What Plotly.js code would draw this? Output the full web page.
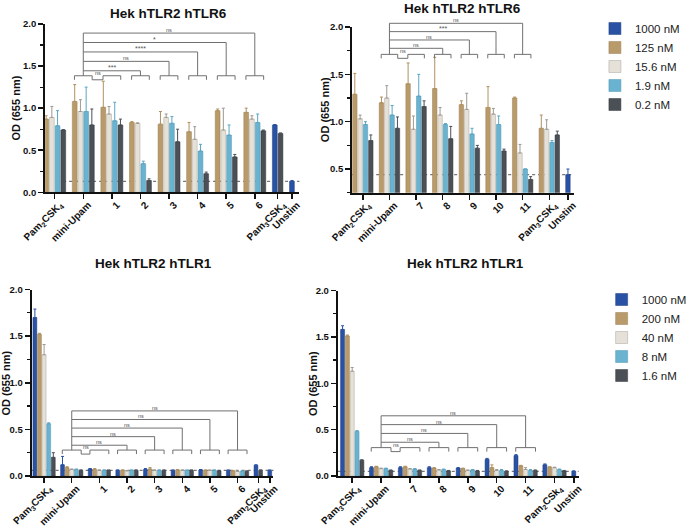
<!DOCTYPE html>
<html>
<head>
<meta charset="utf-8">
<script src="https://cdn.plot.ly/plotly-3.0.1.min.js"></script>
<style>html,body{margin:0;padding:0;background:#fff}#chart{width:692px;height:532px}</style>
</head>
<body>
<div id="chart"></div>
<script>
// ================= DATA =================
// Series (concentrations)
const topConc = ['1000 nM', '125 nM', '15.6 nM', '1.9 nM', '0.2 nM'];
const botConc = ['1000 nM', '200 nM', '40 nM', '8 nM', '1.6 nM'];

// Panel A: Hek hTLR2 hTLR6 (compounds 1-6)
const aCats = ['Pam<sub>2</sub>CSK<sub>4</sub>', 'mini-Upam', '1', '2', '3', '4', '5', '6', 'Pam<sub>3</sub>CSK<sub>4</sub>', 'Unstim'];
const a1000 = [null, null, null, null, null, null, null, null, 0.80, 0.13];
const a1000Sd = [null, null, null, null, null, null, null, null, 0.005, 0.01];
const a125 = [0.87, 1.08, 1.01, 0.83, 0.81, 0.72, 0.97, 0.95, null, null];
const a125Sd = [0.04, 0.20, 0.31, 0.01, 0.15, 0.11, 0.02, 0.05, null, null];
const a15 = [0.89, 0.96, 0.93, 0.82, 0.89, 0.63, 0.74, 0.87, null, null];
const a15Sd = [0.13, 0.14, 0.09, 0.005, 0.04, 0.15, 0.26, 0.04, null, null];
const a19 = [0.79, 0.96, 0.85, 0.34, 0.82, 0.49, 0.68, 0.83, null, null];
const a19Sd = [0.18, 0.29, 0.22, 0.03, 0.08, 0.08, 0.12, 0.10, null, null];
const a02 = [0.74, 0.80, 0.80, 0.14, 0.60, 0.22, 0.42, 0.73, 0.70, null];
const a02Sd = [0.005, 0.19, 0.07, 0.02, 0.15, 0.02, 0.03, 0.01, 0.005, null];
const aSig = ['ns', '***', 'ns', '****', '*', 'ns'];

// Panel B: Hek hTLR2 hTLR6 (compounds 7-11)
const bCats = ['Pam<sub>2</sub>CSK<sub>4</sub>', 'mini-Upam', '7', '8', '9', '10', '11', 'Pam<sub>3</sub>CSK<sub>4</sub>', 'Unstim'];
const b1000 = [null, null, null, null, null, null, null, null, 0.44];
const b1000Sd = [null, null, null, null, null, null, null, null, 0.06];
const b125 = [1.29, 1.20, 1.40, 1.35, 1.18, 1.15, 1.25, 0.93, null];
const b125Sd = [0.22, 0.06, 0.22, 0.33, 0.04, 0.22, 0.01, 0.14, null];
const b15 = [1.03, 1.25, 0.92, 1.07, 1.13, 1.08, 0.67, 0.92, null];
const b15Sd = [0.04, 0.13, 0.14, 0.08, 0.17, 0.06, 0.09, 0.10, null];
const b19 = [0.97, 1.07, 1.27, 0.97, 0.87, 0.97, 0.50, 0.78, null];
const b19Sd = [0.03, 0.10, 0.23, 0.01, 0.06, 0.09, 0.0, 0.02, null];
const b02 = [0.80, 0.93, 1.16, 0.82, 0.72, 0.69, 0.39, 0.86, null];
const b02Sd = [0.06, 0.12, 0.06, 0.13, 0.03, 0.02, 0.03, 0.04, null];
const bSig = ['ns', 'ns', 'ns', '***', 'ns'];

// Panel C: Hek hTLR2 hTLR1 (compounds 1-6)
const cCats = ['Pam<sub>3</sub>CSK<sub>4</sub>', 'mini-Upam', '1', '2', '3', '4', '5', '6', 'Pam<sub>2</sub>CSK<sub>4</sub>', 'Unstim'];
const c1000 = [1.70, 0.12, 0.075, 0.06, 0.07, 0.06, 0.065, 0.06, 0.115, 0.06];
const c1000Sd = [0.09, 0.09, 0.005, 0.005, 0.01, 0.005, 0.005, 0.005, 0.005, 0.005];
const c200 = [1.52, 0.09, 0.07, 0.06, 0.075, 0.065, 0.06, 0.055, null, null];
const c200Sd = [0.01, 0.01, 0.01, 0.005, 0.015, 0.005, 0.005, 0.005, null, null];
const c40 = [1.30, 0.07, 0.06, 0.055, 0.06, 0.06, 0.06, 0.05, null, null];
const c40Sd = [0.11, 0.005, 0.005, 0.005, 0.005, 0.005, 0.005, 0.005, null, null];
const c8 = [0.56, 0.07, 0.06, 0.06, 0.06, 0.06, 0.06, 0.05, null, null];
const c8Sd = [0.01, 0.005, 0.005, 0.005, 0.005, 0.005, 0.005, 0.005, null, null];
const c16 = [0.20, 0.06, 0.06, 0.06, 0.06, 0.06, 0.055, 0.05, 0.06, null];
const c16Sd = [0.05, 0.005, 0.005, 0.005, 0.005, 0.005, 0.005, 0.005, 0.005, null];
const cSig = ['ns', 'ns', 'ns', 'ns', 'ns', 'ns'];

// Panel D: Hek hTLR2 hTLR1 (compounds 7-11)
const dCats = ['Pam<sub>3</sub>CSK<sub>4</sub>', 'mini-Upam', '7', '8', '9', '10', '11', 'Pam<sub>2</sub>CSk<sub>4</sub>', 'Unstim'];
const d1000 = [1.58, 0.09, 0.09, 0.09, 0.085, 0.18, 0.22, 0.12, 0.05];
const d1000Sd = [0.04, 0.01, 0.01, 0.01, 0.005, 0.01, 0.01, 0.01, 0.005];
const d200 = [1.51, 0.10, 0.10, 0.085, 0.08, 0.09, 0.11, 0.095, null];
const d200Sd = [0.01, 0.005, 0.005, 0.005, 0.005, 0.03, 0.005, 0.005, null];
const d40 = [1.13, 0.08, 0.075, 0.065, 0.06, 0.06, 0.07, 0.09, null];
const d40Sd = [0.04, 0.005, 0.005, 0.005, 0.005, 0.01, 0.02, 0.005, null];
const d8 = [0.48, 0.08, 0.075, 0.07, 0.065, 0.06, 0.06, 0.07, null];
const d8Sd = [0.01, 0.005, 0.005, 0.005, 0.005, 0.01, 0.01, 0.005, null];
const d16 = [0.17, 0.06, 0.06, 0.055, 0.055, 0.05, 0.06, 0.055, null];
const d16Sd = [0.005, 0.005, 0.005, 0.005, 0.005, 0.005, 0.005, 0.005, null];
const dSig = ['ns', 'ns', 'ns', 'ns', 'ns'];

const titleTop = 'Hek hTLR2 hTLR6';
const titleBot = 'Hek hTLR2 hTLR1';
const yTitle = 'OD (655 nm)';

// ================= STYLE =================
const FONT = 'Arial, "Liberation Sans", sans-serif';
const barColors = ['#2a52a4', '#b99a6b', '#e6e1d8', '#6ab3d0', '#4b4f56'];
const barLines = ['#1f3f80', '#9c7f52', '#a8a49c', '#4f96b2', '#34383d'];
const errColors = ['#2a52a4', '#b0915f', '#9d9992', '#5aa6c4', '#4b4f56'];

const panels = [
  {vals: [a1000, a125, a15, a19, a02], sds: [a1000Sd, a125Sd, a15Sd, a19Sd, a02Sd], cats: aCats, sig: aSig, names: topConc, legend: 'legend', showLeg: true,
   xa: 'x', ya: 'y', xd: [47 / 692, 312 / 692], yd: [1 - 192.3 / 532, 1 - 24 / 532], xr: [0.32, 44.8], yr: [0, 2],
   br: {top: 1.385, leg: 1.337, lvl0: 1.444, step: 0.112}, title: titleTop, tx: 176, ty: 14, ytx: 17},
  {vals: [b1000, b125, b15, b19, b02], sds: [b1000Sd, b125Sd, b15Sd, b19Sd, b02Sd], cats: bCats, sig: bSig, names: topConc, legend: 'legend', showLeg: false,
   xa: 'x2', ya: 'y2', xd: [367 / 692, 598 / 692], yd: [1 - 192.7 / 532, 1 - 27 / 532], xr: [0, 41.6], yr: [0.25, 2],
   br: {top: 1.711, leg: 1.669, lvl0: 1.775, step: 0.088}, title: titleTop, tx: 482, ty: 9, ytx: 339},
  {vals: [c1000, c200, c40, c8, c16], sds: [c1000Sd, c200Sd, c40Sd, c8Sd, c16Sd], cats: cCats, sig: cSig, names: botConc, legend: 'legend2', showLeg: true,
   xa: 'x3', ya: 'y3', xd: [33 / 692, 285 / 692], yd: [1 - 476 / 532, 1 - 289.5 / 532], xr: [-0.2, 52.3], yr: [0, 2],
   br: {top: 0.278, leg: 0.235, lvl0: 0.33, step: 0.092}, title: titleBot, tx: 160, ty: 263, ytx: 6},
  {vals: [d1000, d200, d40, d8, d16], sds: [d1000Sd, d200Sd, d40Sd, d8Sd, d16Sd], cats: dCats, sig: dSig, names: botConc, legend: 'legend2', showLeg: false,
   xa: 'x4', ya: 'y4', xd: [352 / 692, 603 / 692], yd: [1 - 476 / 532, 1 - 290.5 / 532], xr: [-0.5, 49.5], yr: [0, 2],
   br: {top: 0.306, leg: 0.263, lvl0: 0.364, step: 0.095}, title: titleBot, tx: 485, ty: 263, ytx: 326}
];

// place bars of each group side by side, one empty slot between groups
function layoutGroups(seriesVals) {
  const nG = seriesVals[0].length;
  const pos = seriesVals.map(() => []);
  const centers = [], spans = [];
  let slot = 0;
  for (let g = 0; g < nG; g++) {
    if (g > 0) slot += 1;
    const start = slot;
    seriesVals.forEach((arr, s) => {
      if (arr[g] !== null && arr[g] !== undefined) { pos[s][g] = slot + 0.5; slot++; }
      else pos[s][g] = null;
    });
    centers.push((start + slot) / 2);
    spans.push([start, slot]);
  }
  return {pos, centers, spans};
}

const traces = [], shapes = [], annotations = [];
const layout = {
  width: 692, height: 532,
  margin: {l: 0, r: 0, t: 0, b: 0},
  paper_bgcolor: '#ffffff', plot_bgcolor: 'rgba(0,0,0,0)',
  font: {family: FONT, color: '#111'},
  barmode: 'overlay',
  showlegend: true,
  legend: {x: 620 / 692, y: 1 - 14 / 532, xanchor: 'left', yanchor: 'top', font: {size: 11.5, color: '#222', family: FONT}, itemwidth: 30, traceorder: 'normal', bgcolor: 'rgba(0,0,0,0)'},
  legend2: {x: 627 / 692, y: 1 - 285 / 532, xanchor: 'left', yanchor: 'top', font: {size: 11.5, color: '#222', family: FONT}, itemwidth: 30, traceorder: 'normal', bgcolor: 'rgba(0,0,0,0)'},
  shapes, annotations
};

panels.forEach((p, pi) => {
  const L = layoutGroups(p.vals);
  p.vals.forEach((vals, s) => {
    const sd = p.sds[s];
    traces.push({
      type: 'bar', x: L.pos[s], y: vals, width: 0.84,
      xaxis: p.xa, yaxis: p.ya, name: p.names[s], legend: p.legend,
      showlegend: p.showLeg,
      marker: {color: barColors[s], line: {color: barLines[s], width: 0.5}},
      error_y: {type: 'data', symmetric: false, array: sd, arrayminus: sd.map(() => 0),
        color: errColors[s], thickness: 1, width: 1.5},
      hoverinfo: 'skip'
    });
  });

  const n = pi + 1;
  const xk = n === 1 ? 'xaxis' : 'xaxis' + n;
  const yk = n === 1 ? 'yaxis' : 'yaxis' + n;
  layout[xk] = {
    domain: p.xd, range: p.xr, anchor: p.ya, fixedrange: true,
    showline: true, linecolor: '#111', linewidth: 2, showgrid: false, zeroline: false,
    ticks: 'outside', ticklen: 5, tickwidth: 1.5, tickcolor: '#111',
    tickmode: 'array', tickvals: L.centers, ticktext: p.cats, tickangle: -45,
    ticklabelshift: 5, ticklabelstandoff: -4,
    tickfont: {family: FONT, size: 10, color: '#111', weight: 'bold'}
  };
  layout[yk] = {
    domain: p.yd, range: p.yr, anchor: p.xa, fixedrange: true,
    showline: true, linecolor: '#111', linewidth: 2, showgrid: false, zeroline: false,
    ticks: 'outside', ticklen: 5, tickwidth: 1.5, tickcolor: '#111',
    tick0: 0, dtick: 0.5, tickformat: '.1f',
    minor: {dtick: 0.25, tick0: 0, ticks: 'outside', ticklen: 3, tickwidth: 1.2, tickcolor: '#111', showgrid: false},
    tickfont: {family: FONT, size: 9.5, color: '#111', weight: 'bold'}
  };

  // y-axis title, centred on the axis
  annotations.push({xref: 'paper', yref: 'paper', x: p.ytx / 692, y: (p.yd[0] + p.yd[1]) / 2, text: '<b>' + yTitle + '</b>',
    textangle: -90, showarrow: false, xanchor: 'center', yanchor: 'middle', font: {family: FONT, size: 11, color: '#111'}});

  // helpers: data -> paper coordinates
  const X = v => p.xd[0] + (v - p.xr[0]) / (p.xr[1] - p.xr[0]) * (p.xd[1] - p.xd[0]);
  const Y = v => p.yd[0] + (v - p.yr[0]) / (p.yr[1] - p.yr[0]) * (p.yd[1] - p.yd[0]);
  const lineStyle = {color: '#707070', width: 1};
  const seg = (x0, y0, x1, y1) => shapes.push({type: 'line', xref: 'paper', yref: 'paper',
    x0: X(x0), y0: Y(y0), x1: X(x1), y1: Y(y1), line: lineStyle});
  const lab = (x, y, t) => annotations.push({xref: 'paper', yref: 'paper', x: X(x), y: Y(y), text: t,
    showarrow: false, xanchor: 'center', yanchor: 'bottom', font: {family: FONT, size: t === 'ns' ? 5.5 : 7, color: '#555'}, borderpad: 0, yshift: -1});

  // dotted baseline at the unstimulated level
  const unstim = p.vals[0][p.vals[0].length - 1];
  shapes.push({type: 'line', xref: 'paper', yref: 'paper', layer: 'below',
    x0: p.xd[0], x1: p.xd[1], y0: Y(unstim), y1: Y(unstim),
    line: {color: '#777', width: 1.2, dash: 'dot'}});

  // significance brackets: mini-Upam (index 1) vs each compound
  const ref = 1, inset = 0.45, b = p.br;
  for (let g = ref; g <= ref + p.sig.length; g++) {
    const a0 = L.spans[g][0] + inset, a1 = L.spans[g][1] - inset;
    seg(a0, b.leg, a0, b.top); seg(a0, b.top, a1, b.top); seg(a1, b.top, a1, b.leg);
  }
  seg(L.spans[ref][1] - inset, b.leg, L.spans[ref + 1][0] + inset, b.leg);
  lab((L.centers[ref] + L.centers[ref + 1]) / 2, b.top, p.sig[0]);
  const topLevel = b.lvl0 + (p.sig.length - 2) * b.step;
  seg(L.centers[ref], b.top, L.centers[ref], topLevel);
  for (let k = 1; k < p.sig.length; k++) {
    const yl = b.lvl0 + (k - 1) * b.step;
    const t = ref + 1 + k;
    seg(L.centers[ref], yl, L.centers[t], yl);
    seg(L.centers[t], yl, L.centers[t], b.top);
    lab((L.centers[ref] + L.centers[t]) / 2, yl, p.sig[k]);
  }

  // panel title
  annotations.push({xref: 'paper', yref: 'paper', x: p.tx / 692, y: 1 - p.ty / 532, text: '<b>' + p.title + '</b>',
    showarrow: false, xanchor: 'center', yanchor: 'middle', font: {family: FONT, size: 13.5, color: '#111'}});
});

Plotly.newPlot('chart', traces, layout, {staticPlot: true, displayModeBar: false});
</script>
</body>
</html>
